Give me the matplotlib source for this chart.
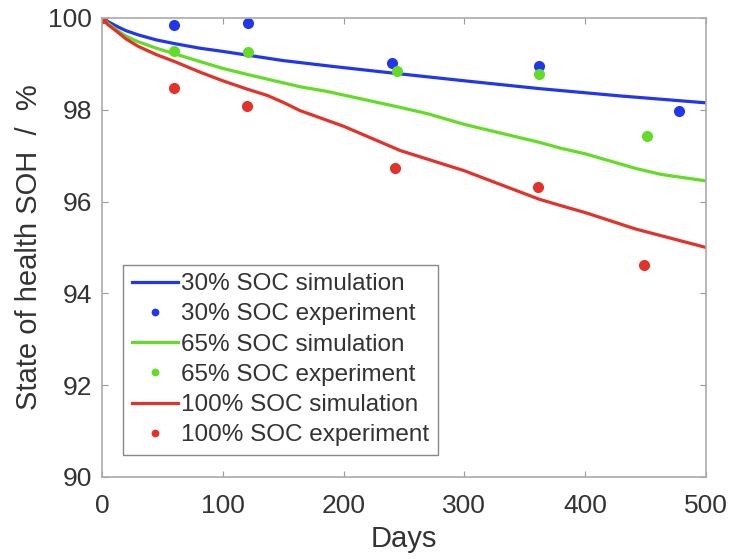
import matplotlib.pyplot as plt

plt.rcParams['font.family'] = ['Liberation Sans', 'DejaVu Sans']

# simulation curves (days, SOH %)
sim30_days = [0, 5, 12, 20, 30, 45, 60, 81, 100, 120, 150, 192, 240, 300, 362, 429, 500]
sim30_soh = [100, 99.92, 99.82, 99.72, 99.63, 99.52, 99.44, 99.34, 99.27, 99.19, 99.07, 98.94, 98.80, 98.63, 98.46, 98.30, 98.15]

sim65_days = [0, 5, 12, 20, 30, 45, 60, 81, 100, 120, 164, 186, 200, 247, 270, 300, 362, 380, 400, 442, 463, 500]
sim65_soh = [100, 99.88, 99.74, 99.60, 99.48, 99.34, 99.22, 99.05, 98.90, 98.77, 98.50, 98.40, 98.32, 98.05, 97.91, 97.68, 97.29, 97.16, 97.04, 96.72, 96.59, 96.45]

sim100_days = [0, 5, 12, 20, 30, 45, 60, 81, 100, 120, 137, 150, 164, 200, 247, 300, 362, 380, 400, 442, 500]
sim100_soh = [100, 99.85, 99.71, 99.54, 99.38, 99.20, 99.05, 98.82, 98.63, 98.45, 98.31, 98.16, 97.98, 97.64, 97.11, 96.67, 96.05, 95.91, 95.76, 95.40, 95.00]

# experiments
exp30_days = [0, 60, 121, 240, 362, 478]
exp30_soh = [100, 99.85, 99.89, 99.01, 98.96, 97.97]
exp65_days = [0, 60, 121, 244, 362, 451]
exp65_soh = [100, 99.27, 99.26, 98.84, 98.77, 97.43]
exp100_days = [0, 60, 120, 243, 361, 449]
exp100_soh = [100, 98.47, 98.07, 96.74, 96.31, 94.62]

blue = '#2236ee'
green = '#62dc24'
red = '#e2322a'

fig = plt.figure(figsize=(7.30, 5.59), dpi=100)
ax = fig.add_axes([0.1397, 0.1467, 0.8273, 0.8213])

ax.plot(sim30_days, sim30_soh, color=blue, lw=2.3, label='30% SOC simulation')
ax.plot(exp30_days, exp30_soh, 'o', color=blue, ms=8, mec='none', label='30% SOC experiment')
ax.plot(sim65_days, sim65_soh, color=green, lw=2.3, label='65% SOC simulation')
ax.plot(exp65_days, exp65_soh, 'o', color=green, ms=8, mec='none', label='65% SOC experiment')
ax.plot(sim100_days, sim100_soh, color=red, lw=2.3, label='100% SOC simulation')
ax.plot(exp100_days, exp100_soh, 'o', color=red, ms=8, mec='none', label='100% SOC experiment')

ax.set_xlim(0, 500)
ax.set_ylim(90, 100)
ax.set_xticks(range(0, 501, 100))
ax.set_yticks(range(90, 101, 2))
ax.tick_params(direction='in', length=4, color='#999999', labelsize=19,
               top=True, right=True, labelcolor='#333333')
ax.tick_params(axis='x', pad=12)
ax.tick_params(axis='y', pad=7)
for s in ax.spines.values():
    s.set_color('#aaaaaa')
    s.set_linewidth(1.2)

ax.set_xlabel('Days', fontsize=21, color='#333333', labelpad=5)
ax.set_ylabel('State of health SOH  /  %', fontsize=21, color='#333333', labelpad=4)

leg = ax.legend(loc='lower left', bbox_to_anchor=(0.035, 0.048), borderaxespad=0,
                fontsize=17.5, handlelength=1.9, handletextpad=0.15, labelspacing=0.34,
                fancybox=False, framealpha=1, edgecolor='#888888', markerscale=0.7,
                borderpad=0.35)
for t in leg.get_texts():
    t.set_color('#333333')

fig.savefig('out.png', dpi=100)
